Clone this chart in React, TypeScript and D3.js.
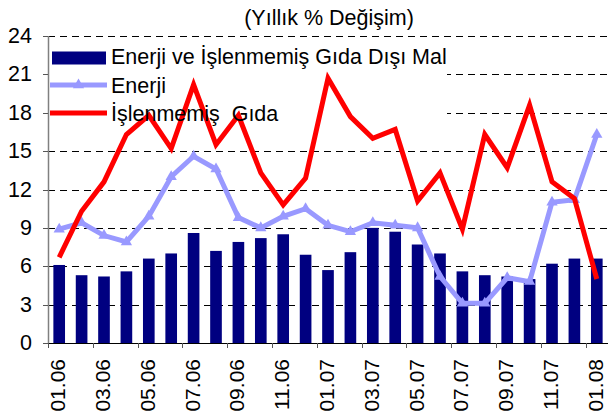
import * as d3 from 'd3';

const months = [
  '01.06', '02.06', '03.06', '04.06', '05.06', '06.06', '07.06', '08.06', '09.06', '10.06', '11.06', '12.06',
  '01.07', '02.07', '03.07', '04.07', '05.07', '06.07', '07.07', '08.07', '09.07', '10.07', '11.07', '12.07',
  '01.08',
];

// Enerji ve İşlenmemiş Gıda Dışı Mal
const disiMal = [
  6.1, 5.3, 5.2, 5.6, 6.6, 7.0, 8.6, 7.2, 7.9, 8.2, 8.5, 6.9,
  5.7, 7.1, 9.0, 8.7, 7.7, 7.0, 5.6, 5.3, 5.2, 5.0, 6.2, 6.6,
  6.6,
];

const enerji = [
  8.9, 9.4, 8.4, 7.9, 9.9, 13.0, 14.6, 13.6, 9.8, 9.0, 9.9, 10.5,
  9.2, 8.7, 9.4, 9.2, 9.0, 5.2, 3.1, 3.1, 5.1, 4.8, 11.0, 11.2,
  16.3,
];

const gida = [
  6.7, 10.3, 12.6, 16.3, 17.8, 15.2, 20.2, 15.5, 17.8, 13.3, 10.8, 12.9,
  20.7, 17.7, 16.0, 16.7, 11.1, 13.3, 8.9, 16.3, 13.7, 18.6, 12.6, 11.3,
  5.0,
];

const yTicks = [0, 3, 6, 9, 12, 15, 18, 21, 24];

const title = '(Yıllık % Değişim)';
const legendNames = ['Enerji ve İşlenmemiş Gıda Dışı Mal', 'Enerji', 'İşlenmemiş  Gıda'];

const W = 608;
const H = 418;
const left = 48;
const right = 608;
const top = 36;
const bottom = 343;
const font = '"Liberation Sans", Arial, sans-serif';

export default function App() {
  const x = d3.scaleBand<string>().domain(months).range([left, right]).padding(0);
  const y = d3.scaleLinear().domain([0, 24]).range([bottom, top]);
  const step = x.step();
  const barW = step * 0.52;
  const cx = (m: string) => (x(m) as number) + step / 2;

  const line = d3
    .line<number>()
    .x((_, i) => cx(months[i]))
    .y((d) => y(d));

  const tri = d3.symbol().type(d3.symbolTriangle).size(55)();

  return (
    <svg
      width={W}
      height={H}
      style={{ position: 'absolute', left: 0, top: 0, background: '#fff' }}
      fontFamily={font}
    >
      <text x={329} y={25} textAnchor="middle" fontSize={21.5} fill="#000">
        {title}
      </text>

      {/* grid */}
      {yTicks.filter((t) => t > 0).map((t) => (
        <line
          key={t}
          x1={left}
          x2={right}
          y1={Math.round(y(t)) + 0.5}
          y2={Math.round(y(t)) + 0.5}
          stroke="#000"
          strokeDasharray="7,5"
        />
      ))}

      {/* legend background */}
      <rect x={49} y={40} width={398} height={85} fill="#fff" />

      {/* bars */}
      {disiMal.map((v, i) => (
        <rect
          key={i}
          x={cx(months[i]) - barW / 2}
          y={y(v)}
          width={barW}
          height={y(0) - y(v)}
          fill="#000080"
        />
      ))}

      {/* axes */}
      <line x1={left + 0.5} x2={left + 0.5} y1={top} y2={bottom} stroke="#808080" strokeWidth={1.5} />
      {yTicks.map((t) => (
        <g key={t}>
          <line x1={43} x2={left} y1={Math.round(y(t)) + 0.5} y2={Math.round(y(t)) + 0.5} stroke="#555" />
          <text x={32} y={y(t) + 7} textAnchor="end" fontSize={21.5} fill="#000">
            {t}
          </text>
        </g>
      ))}
      <line x1={left} x2={right} y1={bottom + 0.5} y2={bottom + 0.5} stroke="#000" strokeWidth={1.2} />
      {months.map((m, i) =>
        i % 2 === 0 ? (
          <g key={m}>
            <line
              x1={Math.round(x(m) as number) + 0.5}
              x2={Math.round(x(m) as number) + 0.5}
              y1={bottom}
              y2={bottom + 5}
              stroke="#555"
            />
            <text
              transform={`translate(${cx(m) + 6},359) rotate(-90)`}
              textAnchor="end"
              fontSize={21}
              fill="#000"
            >
              {m}
            </text>
          </g>
        ) : null
      )}

      {/* Enerji */}
      <path d={line(enerji) ?? ''} fill="none" stroke="#9999FF" strokeWidth={5} strokeLinejoin="miter" />
      {enerji.map((v, i) => (
        <path key={i} d={tri ?? ''} transform={`translate(${cx(months[i])},${y(v)})`} fill="#9999FF" />
      ))}

      {/* İşlenmemiş Gıda */}
      <path d={line(gida) ?? ''} fill="none" stroke="#FF0000" strokeWidth={5} strokeLinejoin="miter" />

      {/* legend */}
      <rect x={52} y={51.5} width={54} height={13} fill="#000080" />
      <line x1={50} x2={107} y1={85} y2={85} stroke="#9999FF" strokeWidth={5} />
      <path d={tri ?? ''} transform="translate(78.5,85)" fill="#9999FF" />
      <line x1={50} x2={107} y1={113} y2={113} stroke="#FF0000" strokeWidth={5} />
      {legendNames.map((n, i) => (
        <text key={n} x={111} y={64 + i * 28.5} fontSize={21.5} fill="#000" style={{ whiteSpace: 'pre' }}>
          {n}
        </text>
      ))}
    </svg>
  );
}
